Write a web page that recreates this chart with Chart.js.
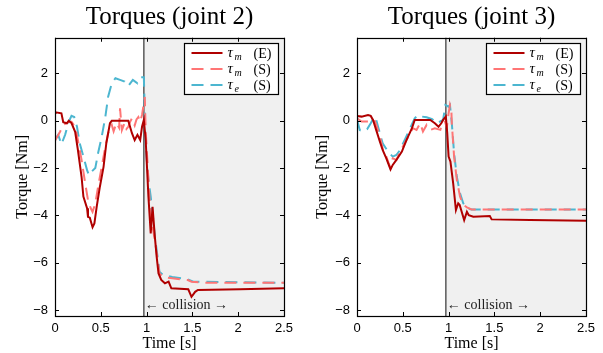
<!DOCTYPE html>
<html><head><meta charset="utf-8">
<script src="https://cdn.jsdelivr.net/npm/chart.js@4/dist/chart.umd.min.js"></script>
<style>
body{margin:0;background:#fff;width:603px;height:353px;overflow:hidden;}
.c{position:absolute;top:0;}
</style>
</head><body>
<div class="c" style="left:0"><canvas id="c2" width="300" height="353"></canvas></div>
<div class="c" style="left:300px"><canvas id="c3" width="303" height="353"></canvas></div>
<script>
// ---- axes / labels ----
const xTicks = [0, 0.5, 1, 1.5, 2, 2.5];
const yTicks = [-8, -6, -4, -2, 0, 2];
const collisionTime = 0.97;
const titles = ['Torques (joint 2)', 'Torques (joint 3)'];
const xTitle = 'Time [s]';
const yTitle = 'Torque [Nm]';
const collisionText = '\u2190 collision \u2192';
const seriesSym = ['\u03c4', '\u03c4', '\u03c4'];
const seriesSub = ['m', 'm', 'e'];
const seriesTag = ['(E)', '(S)', '(S)'];

// ---- joint 2 ----
const j2_mE_t = [0,0.01,0.07,0.09,0.13,0.15,0.18,0.22,0.25,0.29,0.31,0.35,0.36,0.38,0.41,0.43,0.455,0.49,0.53,0.56,0.60,0.62,0.70,0.80,0.84,0.87,0.90,0.93,0.95,0.97,0.99,1.02,1.045,1.065,1.09,1.11,1.13,1.16,1.20,1.24,1.27,1.455,1.49,1.53,1.56,2.02,2.5];
const j2_mE_v = [0.33,0.35,0.31,-0.07,-0.11,0.0,-0.1,-0.47,-1.24,-2.37,-3.21,-3.7,-4.06,-4.1,-4.5,-4.34,-3.64,-2.79,-1.95,-0.96,-0.11,0.0,0.0,0.0,-0.53,-0.82,-0.6,-0.82,-0.26,0.03,-0.82,-3.21,-4.76,-3.64,-4.9,-5.75,-6.45,-6.73,-6.87,-6.8,-7.08,-7.12,-7.44,-7.23,-7.15,-7.12,-7.08];
const j2_mS_t = [0,0.055,0.09,0.15,0.18,0.22,0.25,0.29,0.33,0.36,0.39,0.41,0.44,0.47,0.51,0.55,0.58,0.62,0.64,0.67,0.70,0.71,0.73,0.76,0.78,0.80,0.82,0.84,0.87,0.89,0.91,0.93,0.95,0.98,0.99,1.02,1.04,1.065,1.09,1.12,1.14,1.18,1.28,1.45,1.49,1.62,2.5];
const j2_mS_v = [-0.85,-0.47,-0.18,-0.05,-0.05,-0.26,-0.82,-1.66,-2.65,-3.35,-3.7,-3.85,-3.5,-2.8,-1.95,-1.1,-0.53,-0.18,-0.45,-0.1,-0.3,0.52,-0.4,-0.1,-0.35,-0.26,-0.05,0.1,-0.2,0.05,0.15,-0.05,0.24,1.0,-0.4,-2.5,-3.9,-4.48,-5.04,-5.88,-6.45,-6.6,-6.66,-6.73,-6.8,-6.85,-6.85];
const j2_eS_t = [0,0.035,0.07,0.11,0.15,0.18,0.21,0.24,0.27,0.31,0.35,0.37,0.40,0.44,0.47,0.51,0.55,0.58,0.62,0.66,0.71,0.76,0.80,0.85,0.90,0.94,0.97,0.99,1.02,1.045,1.065,1.09,1.12,1.14,1.18,1.28,1.45,1.51,2.5];
const j2_eS_v = [-0.8,-0.6,-1.0,-0.6,-0.05,0.2,0.15,-0.26,-0.96,-1.52,-2.09,-2.3,-2.15,-2.0,-1.38,-0.68,0.17,1.01,1.58,1.79,1.72,1.65,1.46,1.72,1.58,1.83,1.83,-1.1,-2.5,-3.21,-3.9,-4.9,-5.75,-6.38,-6.52,-6.6,-6.7,-6.8,-6.85];

// ---- joint 3 ----
const j3_mE_t = [0,0.05,0.12,0.15,0.175,0.21,0.25,0.28,0.32,0.366,0.39,0.43,0.49,0.54,0.60,0.63,0.80,0.85,0.89,0.92,0.94,0.97,0.985,1.0,1.02,1.05,1.08,1.105,1.12,1.17,1.2,1.22,1.27,1.45,1.47,1.89,2.5];
const j3_mE_v = [0.2,0.17,0.24,0.2,0.03,-0.4,-0.89,-1.24,-1.59,-2.06,-1.87,-1.66,-1.31,-0.82,-0.32,0.03,0.03,-0.11,-0.26,-0.11,0.03,0.17,-0.53,-1.52,-1.73,-2.65,-3.78,-3.49,-3.55,-4.2,-3.85,-3.99,-4.06,-4.03,-4.17,-4.2,-4.23];
const j3_mS_t = [0,0.05,0.14,0.19,0.21,0.25,0.28,0.32,0.36,0.39,0.43,0.47,0.50,0.54,0.58,0.61,0.65,0.69,0.72,0.76,0.80,0.85,0.91,0.93,0.96,0.98,1.0,1.015,1.03,1.035,1.06,1.09,1.125,1.16,1.2,1.25,2.5];
const j3_mS_v = [0.1,-0.04,-0.04,0.03,-0.18,-0.68,-1.17,-1.52,-1.95,-1.59,-1.66,-1.31,-1.1,-0.82,-0.53,-0.32,-0.39,-0.11,-0.46,-0.18,-0.39,-0.32,-0.39,-0.11,-0.04,-0.3,0.31,0.66,0.45,-0.11,-1.52,-2.51,-3.21,-3.55,-3.66,-3.75,-3.75];
const j3_eS_t = [0,0.03,0.07,0.11,0.15,0.19,0.205,0.24,0.28,0.34,0.39,0.43,0.47,0.52,0.58,0.63,0.67,0.71,0.76,0.82,0.87,0.905,0.94,0.965,1.0,1.015,1.035,1.06,1.09,1.125,1.16,1.2,1.25,2.5];
const j3_eS_v = [0.05,-0.4,-0.46,-0.36,-0.11,0.17,0.1,-0.4,-0.96,-1.31,-1.52,-1.45,-1.24,-0.82,-0.32,0.1,0.24,0.17,0.14,0.06,-0.11,-0.04,0.03,0.66,0.59,0.66,-0.11,-1.38,-2.37,-3.07,-3.49,-3.7,-3.75,-3.75];

// ---- styles ----
const colors = ['#b00000', '#ff7575', '#4cb6d0'];
const dashes = [[], [12, 7], [12, 7]];
const serif = 'Liberation Serif';
const sans = 'Liberation Sans';

function pts(t, v) { return t.map((x, i) => ({x: x, y: v[i]})); }

const decoPlugin = {
  id: 'deco',
  beforeDatasetsDraw(chart) {
    const {ctx, chartArea: a, scales: {x}} = chart;
    const cx = x.getPixelForValue(collisionTime);
    ctx.save();
    ctx.fillStyle = '#f0f0f0';
    ctx.fillRect(cx, a.top, a.right - cx, a.bottom - a.top);
    ctx.strokeStyle = '#5a5a5a';
    ctx.lineWidth = 1.5;
    ctx.beginPath(); ctx.moveTo(cx, a.top); ctx.lineTo(cx, a.bottom); ctx.stroke();
    ctx.fillStyle = '#222';
    ctx.font = '14px "' + serif + '"';
    ctx.textBaseline = 'middle';
    ctx.textAlign = 'left';
    ctx.fillText(collisionText, cx + 1, a.bottom - 11);
    ctx.restore();
  },
  afterDatasetsDraw(chart) {
    const {ctx, chartArea: a, scales: {x, y}} = chart;
    ctx.save();
    // frame
    ctx.strokeStyle = '#000';
    ctx.lineWidth = 1.2;
    ctx.strokeRect(Math.round(a.left) + 0.5, Math.round(a.top) + 0.5, Math.round(a.right - a.left), Math.round(a.bottom - a.top));
    // inner ticks
    ctx.lineWidth = 1;
    const L = 4;
    ctx.beginPath();
    xTicks.forEach(v => {
      const px = Math.round(x.getPixelForValue(v)) + 0.5;
      ctx.moveTo(px, a.bottom); ctx.lineTo(px, a.bottom - L);
      ctx.moveTo(px, a.top); ctx.lineTo(px, a.top + L);
    });
    yTicks.forEach(v => {
      const py = Math.round(y.getPixelForValue(v)) + 0.5;
      ctx.moveTo(a.left, py); ctx.lineTo(a.left + L, py);
      ctx.moveTo(a.right, py); ctx.lineTo(a.right - L, py);
    });
    ctx.stroke();
    // legend
    const bw = 94, bh = 51;
    const bx = Math.round(a.right - 6 - bw) + 0.5, by = Math.round(a.top + 5) + 0.5;
    ctx.fillStyle = '#fff';
    ctx.fillRect(bx, by, bw, bh);
    ctx.strokeStyle = '#000';
    ctx.lineWidth = 1.2;
    ctx.strokeRect(bx, by, bw, bh);
    for (let i = 0; i < 3; i++) {
      const ry = by + 9.5 + i * 16;
      ctx.strokeStyle = colors[i];
      ctx.lineWidth = 2;
      ctx.setLineDash(dashes[i]);
      ctx.beginPath(); ctx.moveTo(bx + 7, ry); ctx.lineTo(bx + 38, ry); ctx.stroke();
      ctx.setLineDash([]);
      ctx.fillStyle = '#000';
      ctx.textBaseline = 'alphabetic';
      ctx.textAlign = 'left';
      ctx.font = 'italic 15px "' + serif + '"';
      ctx.fillText(seriesSym[i], bx + 43, ry + 4);
      ctx.font = 'italic 10px "' + serif + '"';
      ctx.fillText(seriesSub[i], bx + 50, ry + 7);
      ctx.font = '14px "' + serif + '"';
      ctx.fillText(seriesTag[i], bx + 69, ry + 5);
    }
    ctx.restore();
  }
};

function makeChart(id, title, series, yWidth, padRight) {
  const datasets = series.map((s, i) => ({
    label: seriesSym[i] + seriesSub[i] + ' ' + seriesTag[i],
    data: pts(s[0], s[1]),
    borderColor: colors[i],
    borderWidth: 2,
    borderDash: dashes[i],
    pointRadius: 0,
    tension: 0,
    fill: false
  }));
  return new Chart(document.getElementById(id), {
    type: 'line',
    data: {datasets: datasets},
    plugins: [decoPlugin],
    options: {
      responsive: false,
      animation: false,
      devicePixelRatio: 1,
      layout: {padding: {left: 0, right: padRight, top: 0, bottom: 0}},
      plugins: {
        legend: {display: false},
        tooltip: {enabled: false},
        title: {
          display: true, text: title, fullSize: false,
          color: '#000', font: {family: serif, size: 25, weight: 'normal', lineHeight: 1.15},
          padding: {top: 3, bottom: 6}
        }
      },
      scales: {
        x: {
          type: 'linear', min: 0, max: 2.5,
          afterBuildTicks: s => { s.ticks = xTicks.map(v => ({value: v})); },
          afterFit: s => { s.height = 37; },
          grid: {display: false, drawTicks: false},
          border: {display: false},
          ticks: {color: '#000', font: {family: sans, size: 13}, padding: 5, maxRotation: 0, autoSkip: false,
                  callback: v => String(v)},
          title: {display: true, text: xTitle, color: '#000', font: {family: serif, size: 16}, padding: {top: 0, bottom: 0}}
        },
        y: {
          type: 'linear', min: -8.25, max: 3.5,
          afterBuildTicks: s => { s.ticks = yTicks.map(v => ({value: v})); },
          afterFit: s => { s.width = yWidth; },
          grid: {display: false, drawTicks: false},
          border: {display: false},
          ticks: {color: '#000', font: {family: sans, size: 13}, padding: 7,
                  callback: v => (v < 0 ? '\u2212' + Math.abs(v) : String(v))},
          title: {display: true, text: yTitle, color: '#000', font: {family: serif, size: 16}, padding: {top: 13, bottom: 0}}
        }
      }
    }
  });
}

makeChart('c2', titles[0], [[j2_mE_t, j2_mE_v], [j2_mS_t, j2_mS_v], [j2_eS_t, j2_eS_v]], 55, 16);
makeChart('c3', titles[1], [[j3_mE_t, j3_mE_v], [j3_mS_t, j3_mS_v], [j3_eS_t, j3_eS_v]], 57, 17);
</script>
</body></html>
